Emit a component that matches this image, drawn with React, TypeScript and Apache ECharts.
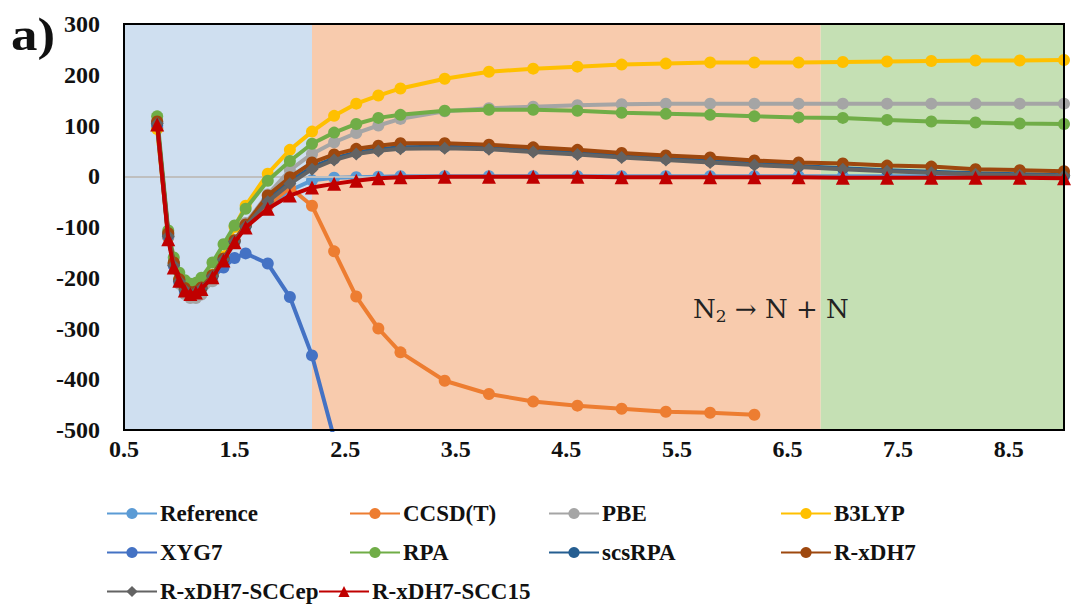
import React, { useEffect, useRef } from "react";
import * as echarts from "echarts";

const R = [0.8, 0.9, 0.95, 1.0, 1.05, 1.1, 1.15, 1.2, 1.3, 1.4, 1.5, 1.6, 1.8, 2.0, 2.2, 2.4, 2.6, 2.8, 3.0, 3.4, 3.8, 4.2, 4.6, 5.0, 5.4, 5.8, 6.2, 6.6, 7.0, 7.4, 7.8, 8.2, 8.6, 9.0];

const reference = [95, -120, -175, -205, -222, -228, -226, -219, -195, -162, -128, -98, -58, -28, -8, -3, -2, -1, 0, 0, 0, 0, 0, 0, 0, 0, 0, 0, 0, 0, 0, 0, 0, 0];
const ccsdt = [95, -120, -175, -205, -222, -228, -226, -219, -195, -162, -128, -98, -58, -22, -58, -148, -237, -300, -347, -403, -429, -444, -452, -458, -464, -466, -470, null, null, null, null, null, null, null];
const pbe = [108, -112, -175, -212, -232, -240, -240, -233, -207, -170, -130, -92, -36, 12, 44, 67, 85, 100, 113, 128, 134, 137, 140, 142, 143, 143, 143, 143, 143, 143, 143, 143, 143, 143];
const b3lyp = [93, -118, -172, -204, -222, -228, -226, -218, -194, -158, -100, -58, 5, 52, 88, 119, 143, 159, 173, 192, 206, 212, 216, 220, 222, 224, 224, 224, 225, 226, 227, 228, 228, 229];
const xyg7 = [100, -118, -176, -208, -226, -231, -228, -218, -198, -180, -161, -152, -172, -238, -353, -516, null, null, null, null, null, null, null, null, null, null, null, null, null, null, null, null, null, null];
const rpa = [118, -107, -160, -190, -205, -212, -210, -200, -170, -134, -97, -64, -9, 30, 64, 86, 103, 115, 121, 129, 131, 131, 129, 125, 123, 121, 118, 116, 115, 111, 108, 106, 104, 103];
const scsrpa = [105, -115, -172, -205, -222, -230, -228, -220, -196, -163, -128, -98, -45, -10, 18, 35, 47, 53, 57, 58, 56, 51, 46, 40, 35, 30, 25, 20, 16, 12, 9, 6, 4, 2];
const rxdh7 = [108, -112, -170, -203, -220, -228, -227, -219, -195, -162, -126, -95, -38, -2, 27, 43, 54, 60, 65, 65, 62, 57, 52, 46, 41, 37, 31, 27, 25, 21, 19, 14, 12, 10];
const sccep = [104, -118, -176, -207, -224, -231, -229, -221, -197, -164, -128, -99, -50, -15, 14, 32, 44, 50, 54, 55, 53, 48, 43, 37, 32, 27, 22, 18, 14, 10, 7, 4, 2, 1];
const scc15 = [102, -124, -180, -206, -225, -232, -229, -222, -199, -166, -130, -101, -64, -38, -22, -15, -9, -4, -2, -1, -1, -1, -1, -2, -2, -2, -2, -2, -3, -3, -3, -3, -3, -4];

const seriesNames = ["Reference", "CCSD(T)", "PBE", "B3LYP", "XYG7", "RPA", "scsRPA", "R-xDH7", "R-xDH7-SCCep", "R-xDH7-SCC15"];
const seriesValues = [reference, ccsdt, pbe, b3lyp, xyg7, rpa, scsrpa, rxdh7, sccep, scc15];
const seriesColors = ["#5B9BD5", "#ED7D31", "#A5A5A5", "#FFC000", "#4472C4", "#70AD47", "#255E91", "#9E480E", "#636363", "#C00000"];
const seriesSymbols = ["circle", "circle", "circle", "circle", "circle", "circle", "circle", "circle", "diamond", "triangle"];

const regionBounds = [0.5, 2.2, 6.8, 9];
const regionColors = ["#CFDFF0", "#F8CBAD", "#C5E0B4"];

const xTicks = { min: 0.5, max: 9, interval: 1 };
const yTicks = { min: -500, max: 300, interval: 100 };

const legendCols = [106, 349, 548, 780];
const legendRows = [502, 541, 580];

const FONT = "Liberation Serif";

export default function App() {
  const ref = useRef<HTMLDivElement>(null);
  useEffect(() => {
    if (!ref.current) return;
    const chart = echarts.init(ref.current, null, { renderer: "svg" });

    const series: any[] = seriesNames.map((name, i) => ({
      name,
      type: "line",
      data: R.map((x, j) => [x, seriesValues[i][j]]).filter((p) => p[1] !== null),
      symbol: seriesSymbols[i],
      symbolSize: seriesSymbols[i] === "triangle" ? 14 : seriesSymbols[i] === "diamond" ? 13 : 12,
      lineStyle: { width: 4, color: seriesColors[i] },
      itemStyle: { color: seriesColors[i] },
      z: 3 + i,
      clip: true,
    }));

    series.unshift({
      name: "__bg",
      type: "line",
      data: [],
      z: 0,
      silent: true,
      markArea: {
        silent: true,
        data: regionColors.map((c, i) => [
          { xAxis: regionBounds[i], itemStyle: { color: c } },
          { xAxis: regionBounds[i + 1] },
        ]),
      },
      markLine: {
        silent: true,
        symbol: "none",
        label: { show: false },
        lineStyle: { color: "#BFBFBF", width: 2, type: "solid" },
        data: [{ yAxis: 0 }],
      },
    });

    const legends = seriesNames.map((name, i) => {
      let left = legendCols[i % 4];
      const top = legendRows[Math.floor(i / 4)];
      if (i === 9) left = 318;
      return {
        left,
        top,
        padding: 0,
        data: [name],
        itemWidth: 50,
        itemHeight: 14,
        itemGap: 0,
        selectedMode: false,
        textStyle: { fontFamily: FONT, fontWeight: "bold", fontSize: 23, color: "#111", padding: [0, 0, 0, -2] },
      };
    });

    chart.setOption({
      animation: false,
      grid: { left: 124, top: 24, right: 8, bottom: 182, containLabel: false },
      xAxis: {
        type: "value",
        min: xTicks.min,
        max: xTicks.max,
        interval: xTicks.interval,
        axisLine: { show: false },
        axisTick: { show: false },
        splitLine: { show: false },
        axisLabel: {
          margin: 7,
          fontFamily: FONT,
          fontWeight: "bold",
          fontSize: 24,
          color: "#111",
          formatter: (v: number) => (Math.abs(v - xTicks.max) < 1e-9 ? "" : v.toFixed(1)),
        },
      },
      yAxis: {
        type: "value",
        min: yTicks.min,
        max: yTicks.max,
        interval: yTicks.interval,
        axisLine: { show: false },
        axisTick: { show: false },
        splitLine: { show: false },
        axisLabel: { margin: 24, fontFamily: FONT, fontWeight: "bold", fontSize: 24, color: "#111" },
      },
      legend: legends,
      series,
      graphic: [
        {
          type: "rect",
          shape: { x: 124, y: 24, width: 940, height: 406 },
          style: { fill: "none", stroke: "#000", lineWidth: 2 },
          z: 100,
          silent: true,
        },
        {
          type: "text",
          x: 11,
          y: 12,
          scaleX: 1.15,
          style: { text: "a)", fontFamily: FONT, fontWeight: "bold", fontSize: 46, fill: "#111" },
          z: 100,
        },
        {
          type: "text",
          left: 693,
          top: 296,
          style: {
            text: "{n|N}{s|2}{n| → N + N}",
            rich: {
              n: { fontFamily: "DejaVu Serif", fontSize: 26, fill: "#222", lineHeight: 32 },
              s: { fontFamily: "DejaVu Serif", fontSize: 17, fill: "#222", padding: [14, 0, 0, 0] },
            },
          },
          z: 100,
        },
      ],
    });
    return () => chart.dispose();
  }, []);
  return <div ref={ref} style={{ position: "absolute", left: 0, top: 0, width: 1072, height: 612, background: "#fff" }} />;
}
